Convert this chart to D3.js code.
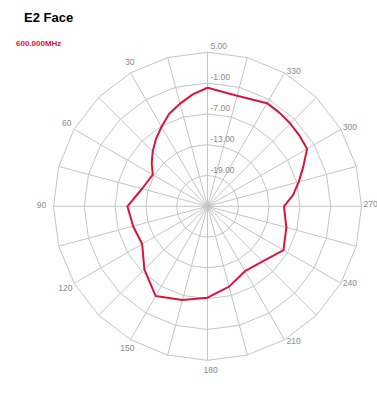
<!DOCTYPE html>
<html>
<head>
<meta charset="utf-8">
<script src="https://cdn.jsdelivr.net/npm/d3@7"></script>
<style>
html,body{margin:0;padding:0;background:#fff;}
svg{display:block;font-family:"Liberation Sans",Arial,sans-serif;}
</style>
</head>
<body>
<svg id="chart" width="377" height="410"></svg>
<script>
// ---- data ----
const title = "E2 Face";
const seriesName = "600.000MHz";
const angles = [0,7.5,15,22.5,30,37.5,45,52.5,60,75,90,105,120,135,150,165,180,195,210,225,240,255,270,277.5,285,292.5,300,307.5,315,322.5,330,345];
const gainDb = [-1.9,-3.0,-4.3,-5.5,-7.1,-8.5,-9.9,-11.3,-12.7,-11.8,-9.4,-10.0,-10.3,-7.6,-4.8,-6.1,-7.2,-8.8,-10.4,-9.8,-7.9,-9.1,-10.1,-8.2,-6.6,-4.8,-2.6,-2.4,-2.2,-2.0,-1.8,-2.7];
const radialTicks = [5,-1,-7,-13,-19];
const ringValues = [-19,-13,-7,-1,5];
const angleLabels = [30,60,90,120,150,180,210,240,270,300,330];
const spokeAngles = d3.range(0,360,15);
const rMin = -25, rMax = 5;

// ---- layout ----
const svg = d3.select("#chart");
const cx = 207.5, cy = 206.3, R = 154;
const r = d3.scaleLinear().domain([rMin, rMax]).range([0, R]);
const rad = a => a * Math.PI / 180;
// angle measured counter-clockwise from top
const px = (a, rr) => cx - rr * Math.sin(rad(a));
const py = (a, rr) => cy - rr * Math.cos(rad(a));

const g = svg.append("g");
const gridColor = "#c4c4c4";

// rings (polygonal)
ringValues.forEach(v => {
  const pts = spokeAngles.map(a => [px(a, r(v)), py(a, r(v))]);
  g.append("path")
    .attr("d", d3.line()(pts) + "Z")
    .attr("fill", "none")
    .attr("stroke", gridColor)
    .attr("stroke-width", 1);
});
// spokes
spokeAngles.forEach(a => {
  g.append("line")
    .attr("x1", cx).attr("y1", cy)
    .attr("x2", px(a, R)).attr("y2", py(a, R))
    .attr("stroke", gridColor).attr("stroke-width", 1);
});

// radial tick labels
radialTicks.forEach(v => {
  g.append("text")
    .attr("x", cx + 3)
    .attr("y", cy - r(v) - 3)
    .attr("font-size", 8.5)
    .attr("fill", "#8a8a8a")
    .text(v.toFixed(2));
});

// angle labels
angleLabels.forEach(a => {
  const vx = px(a, R), vy = py(a, R);
  const t = g.append("text").attr("font-size", 8.5).attr("fill", "#8a8a8a").text(a);
  if (a > 180) {
    const c = Math.cos(rad(a));
    t.attr("text-anchor", "start")
     .attr("x", vx + 2)
     .attr("y", vy + 1 + 4 * Math.max(0, -c));
  } else {
    const s = Math.sin(rad(a)), c = Math.cos(rad(a));
    const dx = -12 * s + 4 * Math.abs(c) * (c > 0 ? 1.5 : 0.8);
    const dy = -11 * c - 1;
    t.attr("text-anchor", "middle")
     .attr("x", vx + dx)
     .attr("y", vy + dy + 3);
  }
});

// data line
const lineGen = d3.lineRadial()
  .angle(d => -rad(d[0]))
  .radius(d => r(d[1]))
  .curve(d3.curveLinearClosed);
const data = angles.map((a, i) => [a, gainDb[i]]);
g.append("path")
  .attr("transform", `translate(${cx},${cy})`)
  .attr("d", lineGen(data))
  .attr("fill", "none")
  .attr("stroke", "#dc143c")
  .attr("stroke-width", 2)
  .attr("stroke-linejoin", "round");

// title & legend
svg.append("text")
  .attr("x", 24).attr("y", 22)
  .attr("font-size", 13).attr("font-weight", "bold").attr("fill", "#000")
  .text(title);
svg.append("text")
  .attr("x", 16).attr("y", 45.5)
  .attr("font-size", 8).attr("font-weight", "bold").attr("fill", "#dc143c")
  .text(seriesName);
</script>
</body>
</html>
